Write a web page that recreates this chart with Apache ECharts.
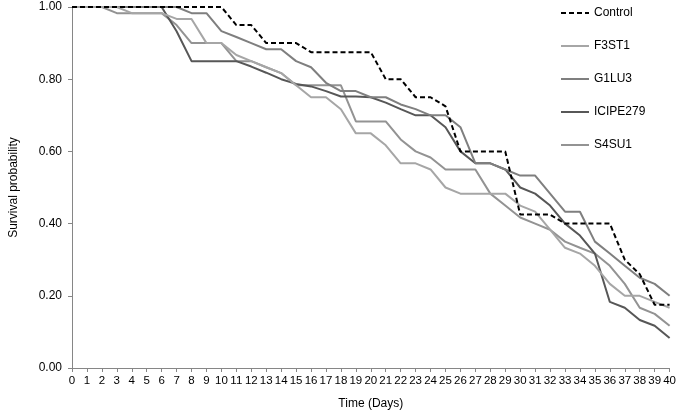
<!DOCTYPE html>
<html>
<head>
<meta charset="utf-8">
<script src="https://cdn.jsdelivr.net/npm/echarts@6/dist/echarts.min.js"></script>
<style>
html, body { margin: 0; padding: 0; background: #fff; }
#chart { width: 679px; height: 417px; }
</style>
</head>
<body>
<div id="chart"></div>
<script>
var days = [];
for (var d = 0; d <= 40; d++) days.push(d);

var seriesNames = ["Control", "F3ST1", "G1LU3", "ICIPE279", "S4SU1"];

// survival probability, day 0..40
var control = [1, 1, 1, 1, 1, 1, 1, 1, 1, 1, 1,
    0.95, 0.95, 0.90, 0.90, 0.90, 0.875, 0.875, 0.875, 0.875, 0.875,
    0.80, 0.80, 0.75, 0.75, 0.725, 0.60, 0.60, 0.60, 0.60, 0.425,
    0.425, 0.425, 0.40, 0.40, 0.40, 0.40, 0.30, 0.26, 0.175, 0.175];
var f3st1 = [1, 1, 1, 1, 0.983, 0.983, 0.983, 0.967, 0.967, 0.90, 0.90,
    0.867, 0.85, 0.833, 0.817, 0.783, 0.75, 0.75, 0.717, 0.65, 0.65,
    0.617, 0.567, 0.567, 0.55, 0.50, 0.483, 0.483, 0.483, 0.483, 0.45,
    0.433, 0.383, 0.333, 0.317, 0.283, 0.233, 0.20, 0.20, 0.183, 0.167];
var g1lu3 = [1, 1, 1, 1, 1, 1, 1, 1, 0.983, 0.983, 0.933,
    0.917, 0.90, 0.883, 0.883, 0.85, 0.833, 0.79, 0.767, 0.767, 0.75,
    0.75, 0.73, 0.717, 0.70, 0.70, 0.667, 0.567, 0.567, 0.55, 0.533,
    0.533, 0.483, 0.433, 0.433, 0.35, 0.317, 0.283, 0.25, 0.233, 0.20];
var icipe279 = [1, 1, 1, 1, 1, 1, 1, 0.933, 0.85, 0.85, 0.85,
    0.85, 0.835, 0.818, 0.80, 0.787, 0.78, 0.767, 0.752, 0.752, 0.75,
    0.735, 0.717, 0.70, 0.70, 0.667, 0.60, 0.567, 0.567, 0.55, 0.50,
    0.483, 0.45, 0.40, 0.367, 0.317, 0.183, 0.167, 0.133, 0.117, 0.083];
var s4su1 = [1, 1, 1, 0.983, 0.983, 0.983, 0.983, 0.95, 0.90, 0.90, 0.90,
    0.85, 0.85, 0.833, 0.817, 0.783, 0.783, 0.783, 0.783, 0.683, 0.683,
    0.683, 0.633, 0.60, 0.583, 0.55, 0.55, 0.55, 0.483, 0.45, 0.417,
    0.40, 0.383, 0.35, 0.333, 0.317, 0.283, 0.233, 0.167, 0.15, 0.117];

var colors = ["#000000", "#a6a6a6", "#7f7f7f", "#575757", "#939393"];
var values = [control, f3st1, g1lu3, icipe279, s4su1];

function pairs(arr) {
    return days.map(function(d, i) { return [d, arr[i]]; });
}

var series = seriesNames.map(function(name, i) {
    return {
        name: name,
        type: "line",
        data: pairs(values[i]),
        symbol: "none",
        animation: false,
        z: i == 0 ? 10 : 5 - i,
        lineStyle: {
            color: colors[i],
            width: 2,
            type: i == 0 ? [5, 3] : "solid"
        },
        itemStyle: { color: colors[i] }
    };
});

var font = "Liberation Sans, Arial, sans-serif";
var chart = echarts.init(document.getElementById("chart"));
chart.setOption({
    backgroundColor: "#fff",
    animation: false,
    grid: { left: 64, right: 8, top: 7, bottom: 49, containLabel: false },
    legend: {
        orient: "vertical",
        left: 560,
        top: 6,
        padding: 0,
        itemWidth: 28,
        itemHeight: 14,
        itemGap: 19,
        itemStyle: { opacity: 0 },
        textStyle: { fontFamily: font, fontSize: 12, color: "#000", height: 14, lineHeight: 14 },
        data: seriesNames
    },
    xAxis: {
        type: "value",
        min: 0,
        max: 40,
        interval: 1,
        name: "Time (Days)",
        nameLocation: "middle",
        nameGap: 30,
        nameTextStyle: { fontFamily: font, fontSize: 12, color: "#000" },
        axisLine: { lineStyle: { color: "#868686", width: 1 } },
        axisTick: { show: true, length: 4, lineStyle: { color: "#868686" } },
        axisLabel: { fontFamily: font, fontSize: 11.5, color: "#000", margin: 7 },
        splitLine: { show: false }
    },
    yAxis: {
        type: "value",
        min: 0,
        max: 1,
        interval: 0.2,
        name: "Survival probability",
        nameLocation: "middle",
        nameGap: 52,
        nameTextStyle: { fontFamily: font, fontSize: 12, color: "#000" },
        axisLine: { show: true, lineStyle: { color: "#868686", width: 1 } },
        axisTick: { show: true, length: 4, lineStyle: { color: "#868686" } },
        axisLabel: {
            fontFamily: font, fontSize: 12, color: "#000", margin: 10,
            formatter: function(v) { return v.toFixed(2); }
        },
        splitLine: { show: false }
    },
    series: series
});
</script>
</body>
</html>
